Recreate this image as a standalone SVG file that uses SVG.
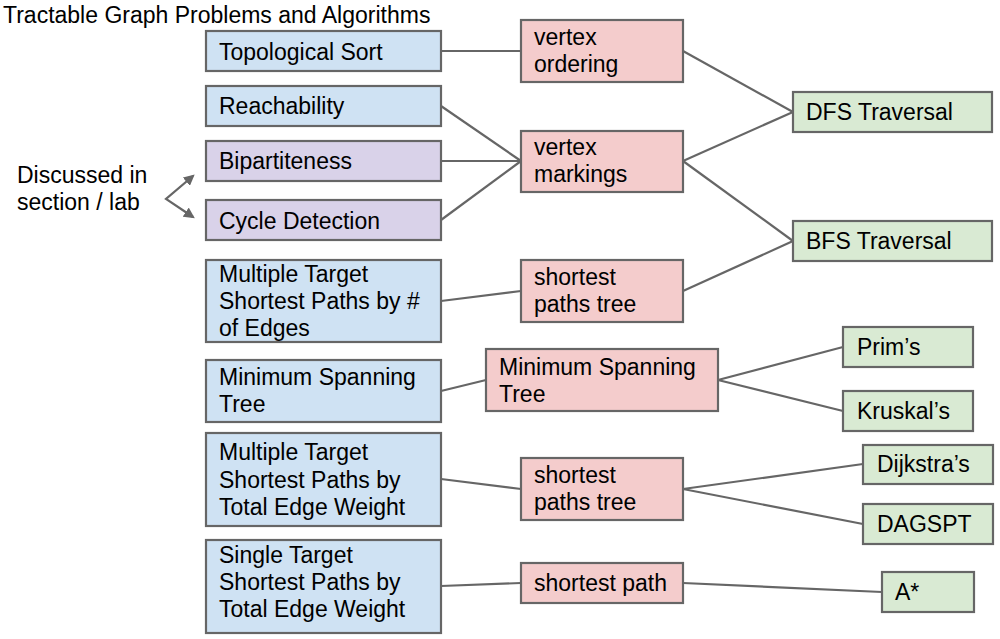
<svg xmlns="http://www.w3.org/2000/svg" width="1000" height="639" viewBox="0 0 1000 639">
<style>
text{font-family:"Liberation Sans",Arial,sans-serif;font-size:23px;fill:#000}
.b,.p,.r,.g{stroke:#666;stroke-width:2.2}
.b{fill:#cfe2f3}.p{fill:#d9d2e9}.r{fill:#f4cccc}.g{fill:#d9ead3}
#connectors line{stroke:#666;stroke-width:2.2}
</style>
<defs>
<marker id="ah" viewBox="0 0 10 10" refX="8" refY="5" markerWidth="5" markerHeight="5" orient="auto-start-reverse" markerUnits="strokeWidth">
<path d="M0,0 L10,5 L0,10 z" fill="#666"/>
</marker>
</defs>
<rect width="1000" height="639" fill="#fff"/>
<text x="3" y="23">Tractable Graph Problems and Algorithms</text>

<g id="connectors">
<line x1="441" y1="51" x2="521" y2="51"/>
<line x1="441" y1="106" x2="521" y2="161"/>
<line x1="441" y1="161" x2="521" y2="161"/>
<line x1="441" y1="220" x2="521" y2="161"/>
<line x1="683" y1="51" x2="793" y2="112"/>
<line x1="683" y1="161" x2="793" y2="112"/>
<line x1="683" y1="161" x2="793" y2="241"/>
<line x1="683" y1="291" x2="793" y2="241"/>
<line x1="441" y1="301" x2="521" y2="291"/>
<line x1="441" y1="391" x2="486" y2="380"/>
<line x1="718" y1="380" x2="843" y2="347"/>
<line x1="718" y1="380" x2="843" y2="411"/>
<line x1="441" y1="479" x2="521" y2="489"/>
<line x1="683" y1="489" x2="863" y2="464"/>
<line x1="683" y1="489" x2="863" y2="524"/>
<line x1="441" y1="586" x2="521" y2="583"/>
<line x1="683" y1="583" x2="882" y2="592"/>
<path d="M193,176 L166,199 L193,217" fill="none" stroke="#666" stroke-width="2.2" marker-start="url(#ah)" marker-end="url(#ah)"/>
</g>

<g id="note"><text x="17" y="183">Discussed in</text><text x="17" y="210">section / lab</text></g>

<g id="topo"><rect class="b" x="206" y="31" width="235" height="40"/><text x="219" y="60">Topological Sort</text></g>
<g id="reach"><rect class="b" x="206" y="86" width="235" height="40"/><text x="219" y="114">Reachability</text></g>
<g id="bipart"><rect class="p" x="206" y="141" width="235" height="40"/><text x="219" y="169">Bipartiteness</text></g>
<g id="cycle"><rect class="p" x="206" y="200" width="235" height="40"/><text x="219" y="229">Cycle Detection</text></g>
<g id="mtsp-edges"><rect class="b" x="206" y="260" width="235" height="82"/><text x="219" y="282">Multiple Target</text><text x="219" y="309">Shortest Paths by #</text><text x="219" y="336">of Edges</text></g>
<g id="mst-prob"><rect class="b" x="206" y="360" width="235" height="62"/><text x="219" y="385">Minimum Spanning</text><text x="219" y="412">Tree</text></g>
<g id="mtsp-weight"><rect class="b" x="206" y="433" width="235" height="93"/><text x="219" y="460">Multiple Target</text><text x="219" y="488">Shortest Paths by</text><text x="219" y="515">Total Edge Weight</text></g>
<g id="stsp-weight"><rect class="b" x="206" y="540" width="235" height="93"/><text x="219" y="563">Single Target</text><text x="219" y="590">Shortest Paths by</text><text x="219" y="617">Total Edge Weight</text></g>

<g id="vorder"><rect class="r" x="521" y="20" width="162" height="62"/><text x="534" y="45">vertex</text><text x="534" y="72">ordering</text></g>
<g id="vmark"><rect class="r" x="521" y="131" width="162" height="61"/><text x="534" y="155">vertex</text><text x="534" y="182">markings</text></g>
<g id="spt1"><rect class="r" x="521" y="260" width="162" height="62"/><text x="534" y="285">shortest</text><text x="534" y="312">paths tree</text></g>
<g id="mst"><rect class="r" x="486" y="349" width="232" height="62"/><text x="499" y="375">Minimum Spanning</text><text x="499" y="402">Tree</text></g>
<g id="spt2"><rect class="r" x="521" y="458" width="162" height="62"/><text x="534" y="483">shortest</text><text x="534" y="510">paths tree</text></g>
<g id="sp"><rect class="r" x="521" y="563" width="162" height="40"/><text x="534" y="591">shortest path</text></g>

<g id="dfs"><rect class="g" x="793" y="92" width="199" height="40"/><text x="806" y="120">DFS Traversal</text></g>
<g id="bfs"><rect class="g" x="793" y="221" width="199" height="40"/><text x="806" y="249">BFS Traversal</text></g>
<g id="prim"><rect class="g" x="843" y="327" width="130" height="40"/><text x="857" y="355">Prim’s</text></g>
<g id="kruskal"><rect class="g" x="843" y="391" width="130" height="40"/><text x="857" y="419">Kruskal’s</text></g>
<g id="dijkstra"><rect class="g" x="863" y="445" width="130" height="39"/><text x="877" y="472">Dijkstra’s</text></g>
<g id="dagspt"><rect class="g" x="863" y="504" width="130" height="40"/><text x="877" y="532">DAGSPT</text></g>
<g id="astar"><rect class="g" x="882" y="572" width="92" height="40"/><text x="895" y="600">A*</text></g>
</svg>
